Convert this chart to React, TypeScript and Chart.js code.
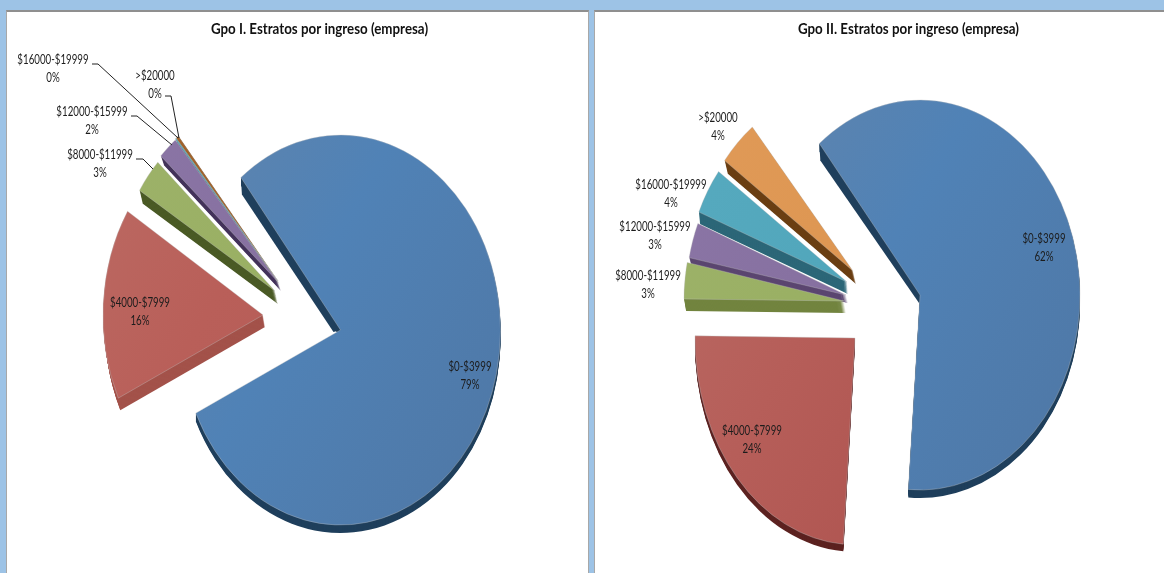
import { useEffect, useRef } from "react";
import { Chart, registerables } from "chart.js";

Chart.register(...registerables);

// Income bands shared by both pies
const bands = ["$0-$3999", "$4000-$7999", "$8000-$11999", "$12000-$15999", "$16000-$19999", ">$20000"];

// Share of companies per income band (%)
const groupOneShares = [79, 16, 3, 2, 0.1, 0.3];
const groupTwoShares = [62, 24, 3, 3, 4, 4];

const groupOneTitle = "Gpo I. Estratos por ingreso (empresa)";
const groupTwoTitle = "Gpo II. Estratos por ingreso (empresa)";

const FONT = "Lato, sans-serif";
const RADIUS = 160;
const STRETCH_Y = 195 / 160;

type Pt = [number, number];
interface PanelStyle {
  left: number;
  top: number;
  width: number;
  height: number;
  centre: Pt;
  rotation: number;
  padLeft: number;
  explode: Pt[];
  yScale: number[];
  depth: Pt[];
  sideColors: string[];
  topColors: [string, string, string][];
  labelAt: Pt[];
  leaders: (Pt[] | null)[];
  cutBand: { rim: Pt; apex: Pt };
}

const groupOneStyle: PanelStyle = {
  left: 7,
  top: 12,
  width: 581,
  height: 561,
  centre: [302, 318],
  rotation: -38.5,
  padLeft: 44,
  explode: [[38.5, 12], [-39, -3], [-27, -27], [-24, -36], [-24, -37], [-24, -37]],
  yScale: [1, 1, 0.97, 0.95, 0.95, 0.95],
  depth: [[0, 8], [2, 12], [3, 13], [3, 9], [2, 4], [2, 4]],
  sideColors: ["#1f3f5c", "#a3524a", "#4a5a25", "#43325a", "#2c6778", "#6a3e12"],
  topColors: [
    ["#5f84ad", "#5082b6", "#4f79a8"],
    ["#bb6a63", "#b95f59", "#b35b56"],
    ["#9db26a", "#9ab064", "#98ae60"],
    ["#8b76a6", "#8771a1", "#826b9c"],
    ["#52a7bc", "#52a7bc", "#52a7bc"],
    ["#a0622a", "#a0622a", "#a0622a"],
  ],
  labelAt: [[470, 367], [140, 303], [100, 155], [92, 112], [53, 60], [155, 76]],
  leaders: [
    null,
    null,
    [[136, 159], [143, 159], [153, 169]],
    [[131, 116], [137, 116], [172, 145]],
    [[92, 64], [98, 64], [178, 138]],
    [[165, 96], [171, 96], [179, 138]],
  ],
  cutBand: { rim: [1, 17], apex: [-7, 2] },
};

const groupTwoStyle: PanelStyle = {
  left: 595,
  top: 12,
  width: 569,
  height: 561,
  centre: [880, 300],
  rotation: -39,
  padLeft: 58,
  explode: [[40, -5], [-25, 38], [-36, 1], [-34, -5], [-33, -18], [-27, -29]],
  yScale: [1, 1.06, 1, 0.97, 0.95, 0.95],
  depth: [[0, 8], [0, 7], [2, 12], [2, 8], [1, 12], [3, 13]],
  sideColors: ["#1f3f5c", "#5c2220", "#72843f", "#5b4670", "#2c6778", "#6a3e12"],
  topColors: [
    ["#5f84ad", "#5082b6", "#4f79a8"],
    ["#b96a64", "#b65e59", "#ad524e"],
    ["#9db26a", "#9ab064", "#98ae60"],
    ["#8b76a6", "#8771a1", "#826b9c"],
    ["#57aabf", "#52a7bc", "#4ea2b8"],
    ["#e09a58", "#de9753", "#dc944f"],
  ],
  labelAt: [[1044, 239], [752, 431], [648, 276], [655, 227], [671, 185], [718, 118]],
  leaders: [null, null, null, null, null, null],
  cutBand: { rim: [1, 17], apex: [-1, 8] },
};

// Horizontally condensed text, centred on x
function condensedText(ctx: CanvasRenderingContext2D, text: string, x: number, y: number, squeeze: number) {
  ctx.save();
  ctx.translate(x, y);
  ctx.scale(squeeze, 1);
  ctx.fillText(text, 0, 0);
  ctx.restore();
}

// Draws the exploded, stretched pie with its extruded sides, using the arc geometry from the controller
function makeExplodedPie(style: PanelStyle, title: string) {
  return {
    id: "explodedPie",
    beforeDatasetDraw(chart: any) {
      const ctx: CanvasRenderingContext2D = chart.ctx;
      const arcs = chart.getDatasetMeta(0).data;
      const baseX = style.centre[0] - style.left;
      const baseY = style.centre[1] - style.top;

      const place = (i: number, arc: any, dx: number, dy: number) => {
        ctx.translate(baseX + style.explode[i][0] + dx, baseY + style.explode[i][1] + dy);
        ctx.scale(1, STRETCH_Y * style.yScale[i]);
        ctx.translate(-arc.x, -arc.y);
      };
      const wedge = (arc: any) => {
        ctx.beginPath();
        ctx.moveTo(arc.x, arc.y);
        ctx.arc(arc.x, arc.y, arc.outerRadius, arc.startAngle, arc.endAngle);
        ctx.closePath();
      };

      for (let i = arcs.length - 1; i >= 0; i--) {
        const arc = arcs[i];
        if (arc.circumference <= 0) continue;
        const steps = Math.ceil(Math.max(Math.abs(style.depth[i][0]), Math.abs(style.depth[i][1])));
        ctx.fillStyle = style.sideColors[i];
        for (let s = steps; s >= 1; s--) {
          ctx.save();
          place(i, arc, (style.depth[i][0] * s) / steps, (style.depth[i][1] * s) / steps);
          wedge(arc);
          ctx.fill();
          ctx.restore();
        }
        if (i === 0) {
          // the first cut face of the large slice widens towards the rim
          const apexX = baseX + style.explode[0][0];
          const apexY = baseY + style.explode[0][1];
          const rimX = apexX + RADIUS * Math.cos(arc.startAngle);
          const rimY = apexY + RADIUS * STRETCH_Y * Math.sin(arc.startAngle);
          ctx.beginPath();
          ctx.moveTo(rimX, rimY);
          ctx.lineTo(rimX + style.cutBand.rim[0], rimY + style.cutBand.rim[1]);
          ctx.lineTo(apexX + style.cutBand.apex[0], apexY + style.cutBand.apex[1]);
          ctx.lineTo(apexX, apexY);
          ctx.closePath();
          ctx.fill();
        }
        ctx.save();
        place(i, arc, 0, 0);
        arc.draw(ctx);
        ctx.restore();
      }
      return false;
    },
    afterDatasetsDraw(chart: any) {
      const ctx: CanvasRenderingContext2D = chart.ctx;
      const values: number[] = chart.data.datasets[0].data;
      const area = chart.chartArea;
      ctx.save();
      ctx.textAlign = "center";
      ctx.textBaseline = "middle";
      ctx.fillStyle = "#111111";
      ctx.font = `bold 15.5px ${FONT}`;
      condensedText(ctx, title, (area.left + area.right) / 2, 29 - style.top, 0.86);
      ctx.translate(-style.left, -style.top);
      ctx.strokeStyle = "#222222";
      ctx.lineWidth = 1;
      style.leaders.forEach((line) => {
        if (!line) return;
        ctx.beginPath();
        line.forEach((p, k) => (k === 0 ? ctx.moveTo(p[0], p[1]) : ctx.lineTo(p[0], p[1])));
        ctx.stroke();
      });
      ctx.font = `13.5px ${FONT}`;
      ctx.fillStyle = "#1c1c1c";
      chart.data.labels.forEach((label: string, i: number) => {
        const [x, y] = style.labelAt[i];
        condensedText(ctx, label, x, y, 0.72);
        condensedText(ctx, `${Math.round(values[i])}%`, x, y + 18, 0.72);
      });
      ctx.restore();
    },
  };
}

function PiePanel({ title, shares, look }: { title: string; shares: number[]; look: PanelStyle }) {
  const ref = useRef<HTMLCanvasElement>(null);
  useEffect(() => {
    const canvas = ref.current!;
    const chart = new Chart(canvas, {
      type: "pie",
      data: {
        labels: bands,
        datasets: [
          {
            data: shares,
            backgroundColor: (c: any) => {
              const area = c.chart.chartArea;
              const stops = look.topColors[c.dataIndex];
              if (!area) return stops[1];
              const mx = (area.left + area.right) / 2;
              const my = (area.top + area.bottom) / 2;
              const g = c.chart.ctx.createLinearGradient(mx - RADIUS, my - RADIUS, mx + RADIUS, my + RADIUS * 0.4);
              g.addColorStop(0, stops[0]);
              g.addColorStop(0.45, stops[1]);
              g.addColorStop(1, stops[2]);
              return g;
            },
            borderColor: "rgba(190,190,190,0.55)",
            borderWidth: 0.6,
          },
        ],
      },
      options: {
        responsive: false,
        animation: false,
        rotation: look.rotation,
        radius: RADIUS,
        layout: { padding: { left: look.padLeft } },
        plugins: {
          legend: { display: false },
          tooltip: { enabled: false },
          title: { display: false },
        },
      } as any,
      plugins: [makeExplodedPie(look, title)],
    });
    return () => chart.destroy();
  }, [title, shares, look]);
  return (
    <canvas
      ref={ref}
      width={look.width}
      height={look.height}
      style={{ position: "absolute", left: look.left, top: look.top, width: look.width, height: look.height, background: "#ffffff" }}
    />
  );
}

export default function App() {
  const sheet = (left: number, width: number) => (
    <div
      style={{
        position: "absolute",
        left,
        top: 10,
        width,
        height: 563,
        boxSizing: "border-box",
        borderTop: "2px solid #8f8f8f",
        borderLeft: "1px solid #a8a8a8",
        borderRight: "1px solid #a8a8a8",
        background: "#ffffff",
      }}
    />
  );
  return (
    <div style={{ position: "fixed", left: 0, top: 0, width: 1164, height: 573, overflow: "hidden", background: "#9dc3e6" }}>
      {sheet(6, 583)}
      {sheet(594, 571)}
      <PiePanel title={groupOneTitle} shares={groupOneShares} look={groupOneStyle} />
      <PiePanel title={groupTwoTitle} shares={groupTwoShares} look={groupTwoStyle} />
    </div>
  );
}
